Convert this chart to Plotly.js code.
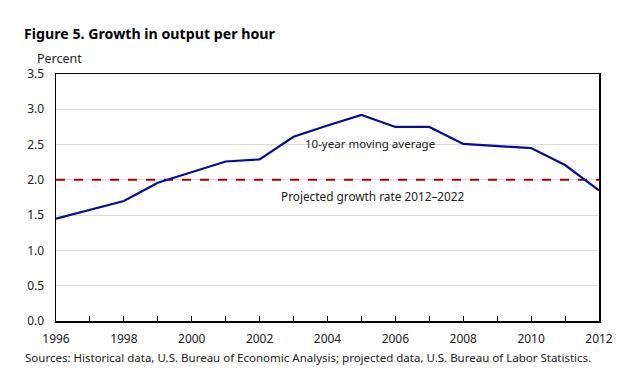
<!DOCTYPE html>
<html><head><meta charset="utf-8">
<script src="https://cdn.plot.ly/plotly-3.0.1.min.js"></script>
<style>html,body{margin:0;padding:0;background:#fff}#c{width:626px;height:382px}</style>
</head><body><div id="c"></div>
<script>
const years = [1996,1997,1998,1999,2000,2001,2002,2003,2004,2005,2006,2007,2008,2009,2010,2011,2012];
const movingAvg = [1.45,1.58,1.70,1.96,2.11,2.26,2.29,2.61,2.77,2.92,2.75,2.75,2.51,2.48,2.45,2.21,1.85];
const projYears = [1996,2012];
const projRate = [2.0,2.0];
const xTickVals = years;
const xTickText = years.map(y => (y % 2 === 0 ? String(y) : ''));
const yTicks = [0,0.5,1,1.5,2,2.5,3,3.5];
const yTickText = yTicks.map(v => v.toFixed(1));

const F = '"Noto Sans", "Open Sans", sans-serif';
const traces = [
  {x: projYears, y: projRate, mode:'lines', line:{color:'#a50000', width:2, dash:'dash'}, hoverinfo:'skip'},
  {x: years, y: movingAvg, mode:'lines', line:{color:'#0a0a9a', width:2.2}}
];
const layout = {
  width:626, height:382,
  margin:{l:56, r:27, t:74, b:61},
  showlegend:false,
  paper_bgcolor:'#fff', plot_bgcolor:'#fff',
  font:{family:F, size:12, color:'#222'},
  title:{text:'<b>Figure 5. Growth in output per hour</b>', xref:'container', yref:'container',
    x:24/626, xanchor:'left', y:1-34/382, yanchor:'middle', font:{family:F, size:14.2, color:'#000'}},
  xaxis:{range:[1996,2012], tickvals:xTickVals, ticktext:xTickText, ticks:'inside', ticklen:5, tickcolor:'#000',
    showgrid:false, showline:true, linecolor:'#000', linewidth:1.5, mirror:true, zeroline:false,
    ticklabelstandoff:6, tickfont:{family:F, size:12, color:'#222'}},
  yaxis:{range:[0,3.5], tickvals:yTicks, ticktext:yTickText, ticks:'', showgrid:true, gridcolor:'#dcdcdc', gridwidth:1,
    showline:true, linecolor:'#000', linewidth:1.5, mirror:true, zeroline:false,
    ticklabelstandoff:8, tickfont:{family:F, size:12, color:'#222'}},
  annotations:[
    {xref:'paper', yref:'paper', x:(36-56)/543, y:(321-58)/247, xanchor:'left', yanchor:'middle', showarrow:false,
     borderpad:0, text:'Percent', font:{family:F, size:12.5, color:'#222'}},
    {xref:'x', yref:'y', x:2005.24, y:2.52, xanchor:'center', yanchor:'middle', showarrow:false,
     text:'10-year moving average', font:{family:F, size:11.5, color:'#222'}},
    {xref:'x', yref:'y', x:2005.35, y:1.77, xanchor:'center', yanchor:'middle', showarrow:false,
     text:'Projected growth rate 2012–2022', font:{family:F, size:11.8, color:'#222'}},
    {xref:'paper', yref:'paper', x:(24-56)/543, y:(321-357)/247, xanchor:'left', yanchor:'middle', showarrow:false,
     borderpad:0, text:'Sources: Historical data, U.S. Bureau of Economic Analysis; projected data, U.S. Bureau of Labor Statistics.', font:{family:F, size:11.5, color:'#222'}}
  ]
};
Plotly.newPlot('c', traces, layout, {displayModeBar:false, staticPlot:true});
</script></body></html>
